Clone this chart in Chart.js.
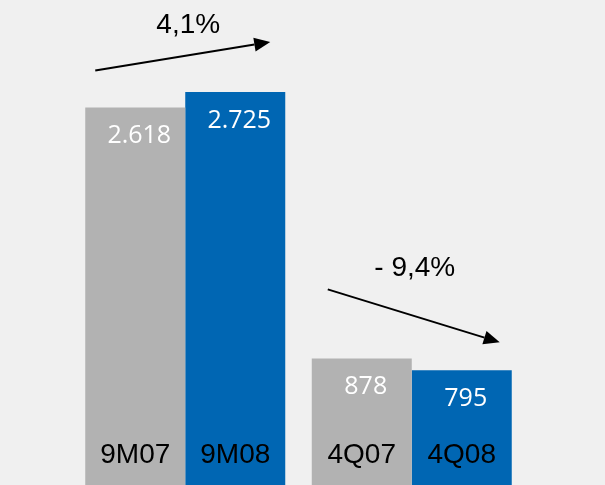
<!DOCTYPE html>
<html lang="en">
<head>
    <meta charset="UTF-8" />
    <title>9M / 4Q</title>
    <script src="https://cdn.jsdelivr.net/npm/chart.js"></script>
    <style>
        html, body {
            margin: 0;
            padding: 0;
            background: #f0f0f0;
            overflow: hidden;
        }
        .wrap {
            width: 605px;
            height: 485px;
        }
    </style>
</head>
<body>
    <div class="wrap"><canvas id="chart" width="605" height="485"></canvas></div>

    <script>
        // data
        const periods = ['9M', '4Q'];
        const prevLabels = ['9M07', '4Q07'];
        const currLabels = ['9M08', '4Q08'];
        const prevValues = [2618, 878];
        const currValues = [2725, 795];
        const valueText = v => v.toLocaleString('de-DE');
        const changeLabels = ['4,1%', '- 9,4%'];

        // arrow placement relative to the bar pair (hand-placed in the original)
        const arrowOffsets = [
            { sx: 10, sy: -37, ex: -15, ey: -50, ty: -59 },
            { sx: 16, sy: -69, ex: -12, ey: -28, ty: -82 }
        ];

        function arrow(ctx, x1, y1, x2, y2) {
            const a = Math.atan2(y2 - y1, x2 - x1);
            const len = 16, half = 7;
            const bx = x2 - len * Math.cos(a), by = y2 - len * Math.sin(a);
            ctx.beginPath();
            ctx.moveTo(x1, y1);
            ctx.lineTo(bx, by);
            ctx.lineWidth = 2;
            ctx.strokeStyle = '#000';
            ctx.stroke();
            ctx.beginPath();
            ctx.moveTo(x2, y2);
            ctx.lineTo(bx + half * Math.sin(a), by - half * Math.cos(a));
            ctx.lineTo(bx - half * Math.sin(a), by + half * Math.cos(a));
            ctx.closePath();
            ctx.fillStyle = '#000';
            ctx.fill();
        }

        const labelsPlugin = {
            id: 'labels',
            beforeDraw(chart) {
                const ctx = chart.ctx;
                ctx.save();
                ctx.fillStyle = '#f0f0f0';
                ctx.fillRect(0, 0, chart.width, chart.height);
                ctx.restore();
            },
            afterDatasetsDraw(chart) {
                const ctx = chart.ctx;
                const prev = chart.getDatasetMeta(0).data;
                const curr = chart.getDatasetMeta(1).data;
                ctx.save();
                ctx.textAlign = 'center';
                ctx.textBaseline = 'alphabetic';

                [prev, curr].forEach((bars, d) => {
                    const vals = d === 0 ? prevValues : currValues;
                    const cats = d === 0 ? prevLabels : currLabels;
                    bars.forEach((bar, i) => {
                        ctx.fillStyle = '#fff';
                        ctx.font = '25px "Open Sans"';
                        ctx.fillText(valueText(vals[i]), bar.x + 4, bar.y + 36);
                        ctx.fillStyle = '#000';
                        ctx.font = '28px "Liberation Sans", Arial';
                        ctx.fillText(cats[i], bar.x, 463);
                    });
                });

                periods.forEach((p, i) => {
                    const o = arrowOffsets[i];
                    const left = prev[i].x - prev[i].width / 2;
                    const right = curr[i].x + curr[i].width / 2;
                    const mid = (left + right) / 2;
                    arrow(ctx, left + o.sx, prev[i].y + o.sy, right + o.ex, curr[i].y + o.ey);
                    ctx.fillStyle = '#000';
                    ctx.font = '28px "Liberation Sans", Arial';
                    ctx.fillText(changeLabels[i], mid + 3, Math.min(prev[i].y, curr[i].y) + o.ty);
                });
                ctx.restore();
            }
        };

        const chart = new Chart(document.getElementById('chart'), {
            type: 'bar',
            data: {
                labels: periods,
                datasets: [
                    { data: prevValues, backgroundColor: '#b2b2b2' },
                    { data: currValues, backgroundColor: '#0066b3' }
                ]
            },
            options: {
                responsive: false,
                animation: false,
                categoryPercentage: 0.883,
                barPercentage: 1,
                layout: { padding: { left: 72, right: 80, top: 0, bottom: 0 } },
                plugins: {
                    legend: { display: false },
                    tooltip: { enabled: false }
                },
                scales: {
                    x: { display: false },
                    y: { display: false, min: 0, max: 3363 }
                }
            },
            plugins: [labelsPlugin]
        });
    </script>
</body>
</html>
